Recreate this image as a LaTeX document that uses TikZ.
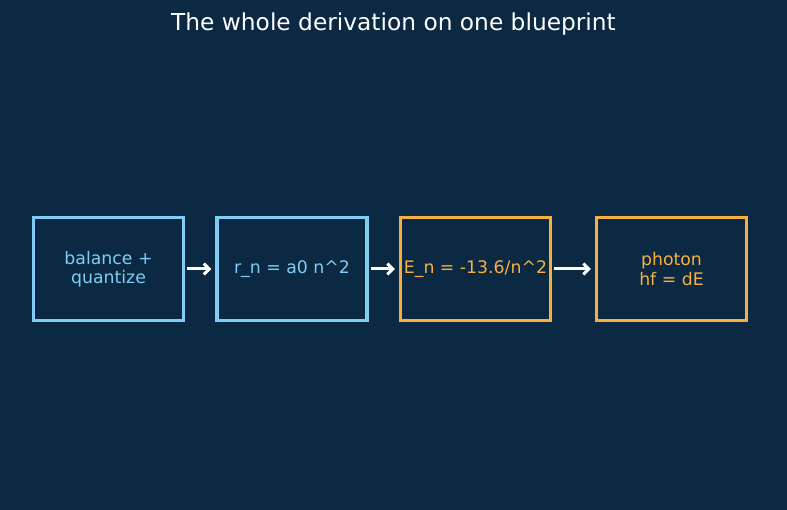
\documentclass[tikz,border=0pt]{standalone}
\usepackage{fontspec}
\setmainfont{DejaVu Sans}
\usepackage{xcolor}
\usetikzlibrary{positioning, arrows.meta}
\definecolor{bgnavy}{HTML}{0B2942}
\definecolor{skyline}{HTML}{7FCDF7}
\definecolor{amber}{HTML}{F5B041}

\tikzset{
	stagebox/.style = {draw, line width=3.1pt, minimum width=150pt, minimum height=103pt,
		align=center, font=\fontsize{17.3}{19.5}\selectfont, inner sep=0pt},
	bluebox/.style = {stagebox, draw=skyline, text=skyline},
	orangebox/.style = {stagebox, draw=amber, text=amber},
	flow/.style = {white, line width=3pt, -{Straight Barb[length=5.5pt, width=11pt]}}
}

\begin{document}
\begin{tikzpicture} [x=1pt, y=-1pt]
	\fill [bgnavy] (0,0) rectangle (787,510);
	\useasboundingbox (0,0) rectangle (787,510);
	
	\node [white, font=\fontsize{23.3}{27}\selectfont] (title) at (393.5,24) {The whole derivation on one blueprint};
	
	\node [bluebox] (balance) at (108.5,269) {balance +\\quantize};
	\node [bluebox] (radius) at (292,269) {r\_n = a0 n\textasciicircum2};
	\node [orangebox] (energy) at (475.5,269) {E\_n = -13.6/n\textasciicircum2};
	\node [orangebox] (photon) at (671.5,269) {photon\\hf = dE};
	
	\draw [flow, shorten <=2pt, shorten >=4pt] (balance) -- (radius);
	\draw [flow, shorten <=2pt, shorten >=4pt] (radius) -- (energy);
	\draw [flow, shorten <=2pt, shorten >=4pt] (energy) -- (photon);
\end{tikzpicture}
\end{document}
